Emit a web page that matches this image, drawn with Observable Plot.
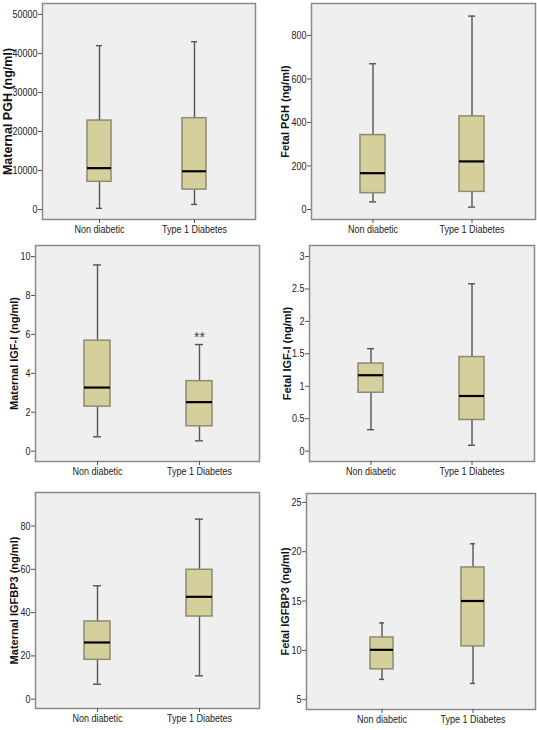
<!DOCTYPE html>
<html>
<head>
<meta charset="utf-8">
<script src="https://cdn.jsdelivr.net/npm/d3@7"></script>
<script src="https://cdn.jsdelivr.net/npm/@observablehq/plot@0.6"></script>
<style>
  html, body { margin: 0; padding: 0; background: #ffffff; }
  #wrap { position: relative; width: 537px; height: 730px; background: #ffffff; overflow: hidden; }
  .cell { position: absolute; }
</style>
</head>
<body>
<div id="wrap"></div>
<script>
// Groups (x categories)
const groups = ["Non diabetic", "Type 1 Diabetes"];

// Five-number summaries per group: [min, q1, median, q3, max]
const maternalPGH = [[300, 7100, 10600, 22800, 42000], [1300, 5100, 9800, 23400, 43000]];
const fetalPGH = [[35, 75, 167, 342, 670], [11, 81, 221, 428, 889]];
const maternalIGF1 = [[0.74, 2.29, 3.27, 5.68, 9.57], [0.53, 1.28, 2.52, 3.60, 5.48]];
const fetalIGF1 = [[0.33, 0.90, 1.17, 1.35, 1.58], [0.09, 0.48, 0.85, 1.45, 2.58]];
const maternalIGFBP3 = [[6.9, 18.2, 26.2, 35.9, 52.4], [10.8, 38.2, 47.3, 59.8, 83.2]];
const fetalIGFBP3 = [[7.05, 8.07, 10.05, 11.3, 12.78], [6.64, 10.4, 15.0, 18.4, 20.8]];

// Y-axis tick values
const maternalPGHTicks = [0, 10000, 20000, 30000, 40000, 50000];
const fetalPGHTicks = [0, 200, 400, 600, 800];
const maternalIGF1Ticks = [0, 2, 4, 6, 8, 10];
const fetalIGF1Ticks = [0, 0.5, 1, 1.5, 2, 2.5, 3];
const maternalIGFBP3Ticks = [0, 20, 40, 60, 80];
const fetalIGFBP3Ticks = [5, 10, 15, 20, 25];

// Y-axis titles
const yTitles = [
  "Maternal PGH (ng/ml)", "Fetal PGH (ng/ml)",
  "Maternal IGF-I (ng/ml)", "Fetal IGF-I (ng/ml)",
  "Maternal IGFBP3 (ng/ml)", "Fetal IGFBP3 (ng/ml)"
];

// Significance annotation
const significance = [{group: "Type 1 Diabetes", value: 5.85, text: "**"}];

const regular = "'Liberation Sans', Arial, Helvetica, sans-serif";

function toRows(summary) {
  return groups.map((g, i) => ({
    group: g, min: summary[i][0], q1: summary[i][1], median: summary[i][2], q3: summary[i][3], max: summary[i][4]
  }));
}

// Condense texts horizontally on screen (the reference uses a narrow face)
function condense(svg, factor) {
  svg.querySelectorAll('g[aria-label="x-axis tick label"] text, g[aria-label="y-axis tick label"] text').forEach(t => {
    const tr = t.getAttribute("transform") || "";
    t.setAttribute("transform", (tr + ` scale(${factor},1)`).trim());
  });
  // rotated titles: local y is screen x
  svg.querySelectorAll('g[aria-label="y-title"] text').forEach(t => {
    const tr = t.getAttribute("transform") || "";
    t.setAttribute("transform", (tr + ` scale(1,${factor})`).trim());
  });
}

function panel(cfg) {
  const rows = toRows(cfg.summary);
  const whisker = {stroke: "#555555", strokeWidth: 1.4};
  const marks = [
    Plot.frame({fill: "#efefef"}),
    Plot.ruleX(rows, {x: "group", y1: "min", y2: "q1", ...whisker}),
    Plot.ruleX(rows, {x: "group", y1: "q3", y2: "max", ...whisker}),
    Plot.tickY(rows, {x: "group", y: "min", insetLeft: 9, insetRight: 9, ...whisker}),
    Plot.tickY(rows, {x: "group", y: "max", insetLeft: 9, insetRight: 9, ...whisker}),
    Plot.barY(rows, {x: "group", y1: "q1", y2: "q3", fill: "#d4cf9b", stroke: "#8d8b72", strokeWidth: 1.5}),
    Plot.tickY(rows, {x: "group", y: "median", stroke: "#000000", strokeWidth: 2.2}),
    Plot.frame({stroke: "#8a8a8a", strokeWidth: 1.5}),
    Plot.axisY({ticks: cfg.ticks, tickSize: 4, tickPadding: 1, tickFormat: d => String(d), fontSize: 11, stroke: "#555555", fill: "#222222", label: null}),
    Plot.axisX({tickSize: 4, tickPadding: 2, fontSize: 11, stroke: "#555555", fill: "#222222", label: null}),
    Plot.text([cfg.title], {ariaLabel: "y-title", frameAnchor: "left", textAnchor: "middle", text: d => d, rotate: -90, dx: cfg.labelShift, fontWeight: "bold", fontSize: cfg.labelSize, fontFamily: regular, fill: "#111111"})
  ];
  if (cfg.extra) marks.push(...cfg.extra);
  const chart = Plot.plot({
    width: cfg.width,
    height: cfg.height,
    marginLeft: cfg.m[0], marginRight: cfg.m[1], marginTop: cfg.m[2], marginBottom: cfg.m[3],
    style: {fontFamily: regular, background: "transparent", color: "#222222"},
    x: {type: "band", domain: groups, paddingInner: 0.75, paddingOuter: cfg.po, align: cfg.align, label: null},
    y: {type: "linear", domain: cfg.yDomain, label: null},
    marks
  });
  condense(chart, 0.82);
  const div = document.createElement("div");
  div.className = "cell";
  div.style.left = cfg.left + "px";
  div.style.top = cfg.top + "px";
  div.appendChild(chart);
  document.getElementById("wrap").appendChild(div);
}

panel({summary: maternalPGH, ticks: maternalPGHTicks, title: yTitles[0], yDomain: [-2560, 52800],
  left: 0, top: 0, width: 268, height: 240, m: [42, 13, 3, 21], po: 0.496, align: 0.48, labelShift: -35, labelSize: 12.5});
panel({summary: fetalPGH, ticks: fetalPGHTicks, title: yTitles[1], yDomain: [-46, 947],
  left: 268, top: 0, width: 269, height: 240, m: [43, 2, 3, 21], po: 0.495, align: 0.49, labelShift: -26, labelSize: 11});
panel({summary: maternalIGF1, ticks: maternalIGF1Ticks, title: yTitles[2], yDomain: [-0.53, 10.57],
  left: 0, top: 240, width: 268, height: 245, m: [35, 9, 5, 24], po: 0.473, align: 0.51, labelShift: -21.5, labelSize: 11,
  extra: [Plot.text(significance, {x: "group", y: "value", text: "text", fontSize: 14, fill: "#444444", fontFamily: regular})]});
panel({summary: fetalIGF1, ticks: fetalIGF1Ticks, title: yTitles[3], yDomain: [-0.16, 3.17],
  left: 268, top: 240, width: 269, height: 245, m: [41, 3, 5, 24], po: 0.478, align: 0.5, labelShift: -22, labelSize: 11});
panel({summary: maternalIGFBP3, ticks: maternalIGFBP3Ticks, title: yTitles[4], yDomain: [-4.3, 95.5],
  left: 0, top: 485, width: 268, height: 245, m: [35, 9, 7, 22], po: 0.473, align: 0.51, labelShift: -21.5, labelSize: 11});
panel({summary: fetalIGFBP3, ticks: fetalIGFBP3Ticks, title: yTitles[5], yDomain: [4.0, 25.9],
  left: 268, top: 485, width: 269, height: 245, m: [38, 2, 8, 21], po: 0.633, align: 0.553, labelShift: -21.5, labelSize: 11});
</script>
</body>
</html>
